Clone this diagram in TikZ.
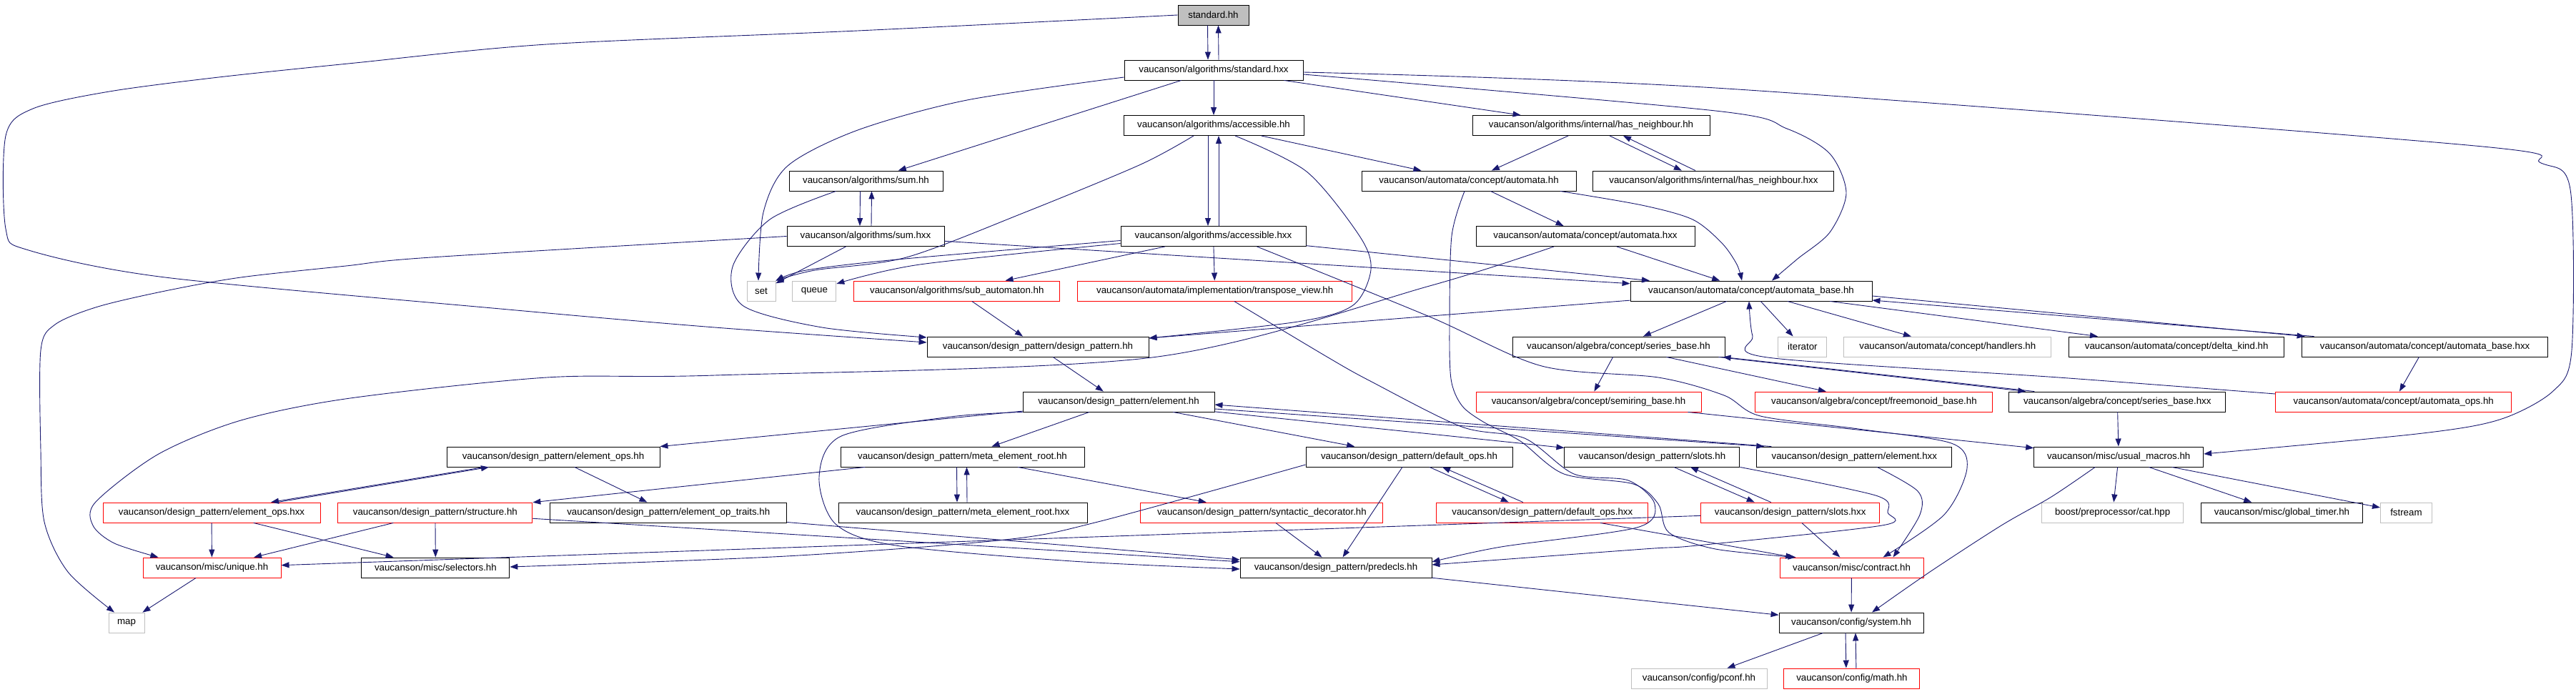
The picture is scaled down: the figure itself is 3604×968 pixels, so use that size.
\documentclass[tikz,border=0pt]{standalone}
\usepackage{fontspec}
\setmainfont{Liberation Sans}
\usepackage{tikz}
\usetikzlibrary{positioning,arrows.meta}
\definecolor{edgeblue}{RGB}{25,25,112}
\definecolor{extgray}{RGB}{191,191,191}

\begin{document}
\begin{tikzpicture}[
x = 1pt, y = -1pt,
     V/.style = {rectangle, draw, line width=0.9pt, minimum height=28pt, inner sep=2pt,
                 font=\fontsize{13.3}{16}\selectfont},
     R/.style = {V, draw=red},
     G/.style = {V, draw=extgray},
     E/.style = {draw=edgeblue, line width=0.9pt, -{Triangle[length=11pt,width=8pt]}}
                    ]
\useasboundingbox (0,0) rectangle (3604,968);

\node (1)  [V, fill=extgray, minimum width=99pt] at (1697.5,21) {standard.hh};
\node (2)  [V, minimum width=250pt] at (1698,98) {vaucanson/algorithms/standard.hxx};
\node (3)  [V, minimum width=252pt] at (1698,175.5) {vaucanson/algorithms/accessible.hh};
\node (4)  [V, minimum width=332pt] at (2226,175.5) {vaucanson/algorithms/internal/has\_neighbour.hh};
\node (5)  [V, minimum width=215pt] at (1211.5,253) {vaucanson/algorithms/sum.hh};
\node (6)  [V, minimum width=300pt] at (2055,253) {vaucanson/automata/concept/automata.hh};
\node (7)  [V, minimum width=337pt, right=23pt of 6] {vaucanson/algorithms/internal/has\_neighbour.hxx};
\node (8)  [V, minimum width=220pt] at (1211,330.5) {vaucanson/algorithms/sum.hxx};
\node (9)  [V, minimum width=259pt] at (1697.5,330.5) {vaucanson/algorithms/accessible.hxx};
\node (10) [V, minimum width=306pt] at (2218,330.5) {vaucanson/automata/concept/automata.hxx};
\node (11) [G, minimum width=40pt] at (1065,407) {set};
\node (12) [G, minimum width=61pt, right=23pt of 11] {queue};
\node (13) [R, minimum width=288pt, right=24pt of 12] {vaucanson/algorithms/sub\_automaton.hh};
\node (14) [R, minimum width=384pt, right=24pt of 13] {vaucanson/automata/implementation/transpose\_view.hh};
\node (15) [V, minimum width=338pt] at (2450,407) {vaucanson/automata/concept/automata\_base.hh};
\node (16) [V, minimum width=310pt] at (1452,485) {vaucanson/design\_pattern/design\_pattern.hh};
\node (17) [V, minimum width=297pt] at (2264.5,485) {vaucanson/algebra/concept/series\_base.hh};
\node (18) [G, minimum width=68pt, right=74pt of 17] {iterator};
\node (19) [G, minimum width=290pt, right=23pt of 18] {vaucanson/automata/concept/handlers.hh};
\node (20) [V, minimum width=301pt, right=24pt of 19] {vaucanson/automata/concept/delta\_kind.hh};
\node (21) [V, minimum width=344pt, right=24pt of 20] {vaucanson/automata/concept/automata\_base.hxx};
\node (22) [V, minimum width=268pt] at (1565,562) {vaucanson/design\_pattern/element.hh};
\node (23) [R, minimum width=315pt] at (2222.5,562) {vaucanson/algebra/concept/semiring\_base.hh};
\node (24) [R, minimum width=332pt, right=75pt of 23] {vaucanson/algebra/concept/freemonoid\_base.hh};
\node (25) [V, minimum width=303pt, right=22pt of 24] {vaucanson/algebra/concept/series\_base.hxx};
\node (26) [R, minimum width=330pt, right=69pt of 25] {vaucanson/automata/concept/automata\_ops.hh};
\node (27) [V, minimum width=298pt] at (774,639) {vaucanson/design\_pattern/element\_ops.hh};
\node (28) [V, minimum width=341pt] at (1346.5,639) {vaucanson/design\_pattern/meta\_element\_root.hh};
\node (29) [V, minimum width=289pt] at (1971.5,639) {vaucanson/design\_pattern/default\_ops.hh};
\node (30) [V, minimum width=245pt, right=72pt of 29] {vaucanson/design\_pattern/slots.hh};
\node (31) [V, minimum width=273pt, right=23pt of 30] {vaucanson/design\_pattern/element.hxx};
\node (32) [V, minimum width=237pt, right=114pt of 31] {vaucanson/misc/usual\_macros.hh};
\node (33) [R, minimum width=304pt] at (296,717) {vaucanson/design\_pattern/element\_ops.hxx};
\node (34) [R, minimum width=272pt, right=24pt of 33] {vaucanson/design\_pattern/structure.hh};
\node (35) [V, minimum width=331pt, right=24pt of 34] {vaucanson/design\_pattern/element\_op\_traits.hh};
\node (36) [V, minimum width=348pt] at (1347,717) {vaucanson/design\_pattern/meta\_element\_root.hxx};
\node (37) [R, minimum width=339pt, right=74pt of 36] {vaucanson/design\_pattern/syntactic\_decorator.hh};
\node (38) [R, minimum width=296pt, right=74pt of 37] {vaucanson/design\_pattern/default\_ops.hxx};
\node (39) [R, minimum width=250pt, right=73pt of 38] {vaucanson/design\_pattern/slots.hxx};
\node (40) [G, minimum width=198pt, right=226pt of 39] {boost/preprocessor/cat.hpp};
\node (41) [V, minimum width=226pt, right=24pt of 40] {vaucanson/misc/global\_timer.hh};
\node (42) [G, minimum width=72pt, right=24pt of 41] {fstream};
\node (43) [R, minimum width=193pt] at (296.5,794) {vaucanson/misc/unique.hh};
\node (44) [V, minimum width=207pt, right=112pt of 43] {vaucanson/misc/selectors.hh};
\node (45) [V, minimum width=268pt] at (1869,794) {vaucanson/design\_pattern/predecls.hh};
\node (46) [R, minimum width=201pt] at (2590.5,794) {vaucanson/misc/contract.hh};
\node (47) [G, minimum width=50pt] at (177,871) {map};
\node (48) [V, minimum width=202pt] at (2590,871) {vaucanson/config/system.hh};
\node (49) [G, minimum width=190pt] at (2377,949) {vaucanson/config/pconf.hh};
\node (50) [R, minimum width=190pt, right=23pt of 49] {vaucanson/config/math.hh};

\draw   ([xshift=-8pt]1.south) edge[E] ([xshift=-8pt]2.north)
        ([xshift=7pt]2.north)  edge[E] ([xshift=7pt]1.south)
        (2) edge[E] (3)   (2) edge[E] (5)   (2) edge[E] (4)
        (3) edge[E] (6)   (4) edge[E] (6)
        ([xshift=26pt]4.south)   edge[E] ([xshift=-44.5pt]7.north)
        ([xshift=-25.5pt]7.north) edge[E] ([xshift=45pt]4.south)
        ([xshift=-8pt]3.south)   edge[E] ([xshift=-7.5pt]9.north)
        ([xshift=7.5pt]9.north)  edge[E] ([xshift=7pt]3.south)
        ([xshift=-8pt]5.south)   edge[E] ([xshift=-8pt]8.north)
        ([xshift=8pt]8.north)    edge[E] ([xshift=8pt]5.south)
        (6) edge[E] (10)  (10) edge[E] (15)
        (8) edge[E] (11)  (8) edge[E] (15)
        (9) edge[E] (13)  (9) edge[E] (14)  (9) edge[E] (15)
        (13) edge[E] (16)
        (15) edge[E] (16) (15) edge[E] (17) (15) edge[E] (18)
        (15) edge[E] (19) (15) edge[E] (20)
        ([yshift=-7pt]15.east)   edge[E] ([xshift=-168pt]21.north)
        ([xshift=-155pt]21.north) edge[E] ([yshift=-13pt]15.east)
        (21) edge[E] (26)
        (17) edge[E] (23) (17) edge[E] (24)
        ([xshift=140pt]17.south)  edge[E] ([xshift=-128pt]25.north)
        ([xshift=-116pt]25.north) edge[E] ([xshift=146pt]17.south)
        (25) edge[E] (32) (23) edge[E] (32)
        (16) edge[E] (22)
        (22) edge[E] (28) (22) edge[E] (29) (22) edge[E] (30) (22) edge[E] (27)
        ([yshift=-10pt]22.east)   edge[E] ([xshift=-126pt]31.north)
        ([xshift=-116pt]31.north) edge[E] ([yshift=-4pt]22.east)
        ([xshift=-97pt]27.south)  edge[E] ([xshift=83pt]33.north)
        ([xshift=92pt]33.north)   edge[E] ([xshift=-90pt]27.south)
        (27) edge[E] (35)
        ([xshift=-8pt]28.south)  edge[E] ([xshift=-8pt]36.north)
        ([xshift=6pt]36.north)   edge[E] ([xshift=6pt]28.south)
        (28) edge[E] (34) (28) edge[E] (37)
        ([xshift=28.5pt]29.south) edge[E] ([xshift=-47pt]38.north)
        ([xshift=-27pt]38.north)  edge[E] ([xshift=46.5pt]29.south)
        ([xshift=30.5pt]30.south) edge[E] ([xshift=-50pt]39.north)
        ([xshift=-27pt]39.north)  edge[E] ([xshift=53.5pt]30.south)
        (29) edge[E] (45)
        (33) edge[E] (43) (33) edge[E] (44)
        (34) edge[E] (43) (34) edge[E] (44) (34) edge[E] (45)
        (35) edge[E] (45) (37) edge[E] (45)
        (39) edge[E] (43) (39) edge[E] (46) (38) edge[E] (46)
        (32) edge[E] (40) (32) edge[E] (41) (32) edge[E] (42)
        (43) edge[E] (47)
        (45) edge[E] (48) (46) edge[E] (48)
        (48) edge[E] (49)
        ([xshift=-8pt]48.south)  edge[E] ([xshift=-8pt]50.north)
        ([xshift=6pt]50.north)   edge[E] ([xshift=6pt]48.south);

\draw[E] plot[smooth] coordinates {(1.west) (1200,43) (765,62) (497,88) (306,108) (153,128) (46,152) (8,190) (8,320) (40,350) (231,388) (700,432) (1000,458) ([yshift=6pt]16.west)};
\draw[E] plot[smooth] coordinates {(8.west) (603,360) (484,372) (337,388) (231,407) (137,429) (77,454) (57,490) (57,630) (62,730) (95,800) ([xshift=-17pt]47.north)};
\draw[E] plot[smooth] coordinates {([yshift=-10pt]2.west) (1353,140) (1200,182) (1102,232) (1068,297) ([xshift=-4pt]11.north)};
\draw[E] plot[smooth] coordinates {([xshift=-28pt]3.south) (1596,230) (1434,297) (1268,360) (1140,378) (11.north east)};
\draw[E] plot[smooth] coordinates {([xshift=30pt]3.south) (1828,240) (1902,330) (1918,377) (1893,427) (1816,450) ([yshift=12pt]16.east)};
\draw[E] plot[smooth] coordinates {([xshift=-42pt]5.south) (1077,307) (1025,373) (1040,428) (1150,458) ([yshift=13pt]16.west)};
\draw[E] plot[smooth] coordinates {([yshift=-6pt]9.west) (1255,363) (1128,378) (11.north east)};
\draw[E] plot[smooth] coordinates {([yshift=-10pt]9.west) (1287,370) ([yshift=10pt]12.east)};
\draw[E] plot[smooth] coordinates {([yshift=-6pt]2.east) (2400,155) (2500,180) (2560,215) (2583,270) (2560,325) (2515,362) ([xshift=29pt]15.north)};
\draw[E] plot[smooth] coordinates {([yshift=-3pt]2.east) (2400,123) (3452,203) (3555,228) (3596,265) (3598,490) (3572,547) (3497,587) (3381,607) ([yshift=4pt]32.east)};
\draw[E] plot[smooth] coordinates {([xshift=128pt]6.south) (2297,287) (2368,307) (2409,340) (2430,370) ([xshift=-13pt]15.north)};
\draw[E] plot[smooth] coordinates {([xshift=-44pt]10.south) (2000,400) (1612,500) (1000,525) (765,528) (490,557) (337,588) (222,635) (134,702) (130,735) (160,760) ([xshift=-75pt]43.north)};
\draw[E] plot[smooth] coordinates {([xshift=61pt]9.south) (2000,443) (2157,512) (2320,528) (2412,553) (2463,582) (2600,600) (2730,620) (2752,655) (2720,720) ([xshift=44pt]46.north)};
\draw[E] plot[smooth] coordinates {([xshift=27pt]14.south) (1858,500) (1917,533) (2045,597) (2133,613) (2202,663) (2278,672) (2315,705) (2290,738) (2100,765) ([yshift=8pt]45.east)};
\draw[E] plot[smooth] coordinates {([xshift=-6pt]6.south) (2031,330) (2028,450) (2030,530) (2045,567) (2075,590) (2127,617) (2188,663) (2285,677) (2320,705) (2335,745) (2400,768) ([xshift=-78pt]46.north)};
\draw[E] plot[smooth] coordinates {(22.south west) (1330,583) (1177,610) (1146,667) (1169,733) (1253,763) (1500,785) ([yshift=-2pt]45.west)};
\draw[E] plot[smooth] coordinates {([yshift=-11pt]29.west) (1536,730) (1406,755) (1100,778) ([yshift=1pt]44.east)};
\draw[E] plot[smooth] coordinates {(30.south east) (2624,693) (2641,717) (2633,735) (2375,763) (2300,768) ([yshift=4pt]45.east)};
\draw[E] plot[smooth] coordinates {([xshift=32pt]31.south) (2683,687) (2686,720) ([xshift=58pt]46.north)};
\draw[E] plot[smooth] coordinates {([yshift=11pt]26.west) (2880,528) (2473,500) (2452,470) ([xshift=-3pt]15.south)};
\draw[E] plot[smooth] coordinates {([xshift=-33pt]32.south) (2870,695) (2800,735) (2700,800) ([xshift=29pt]48.north)};
\end{tikzpicture}
\end{document}
